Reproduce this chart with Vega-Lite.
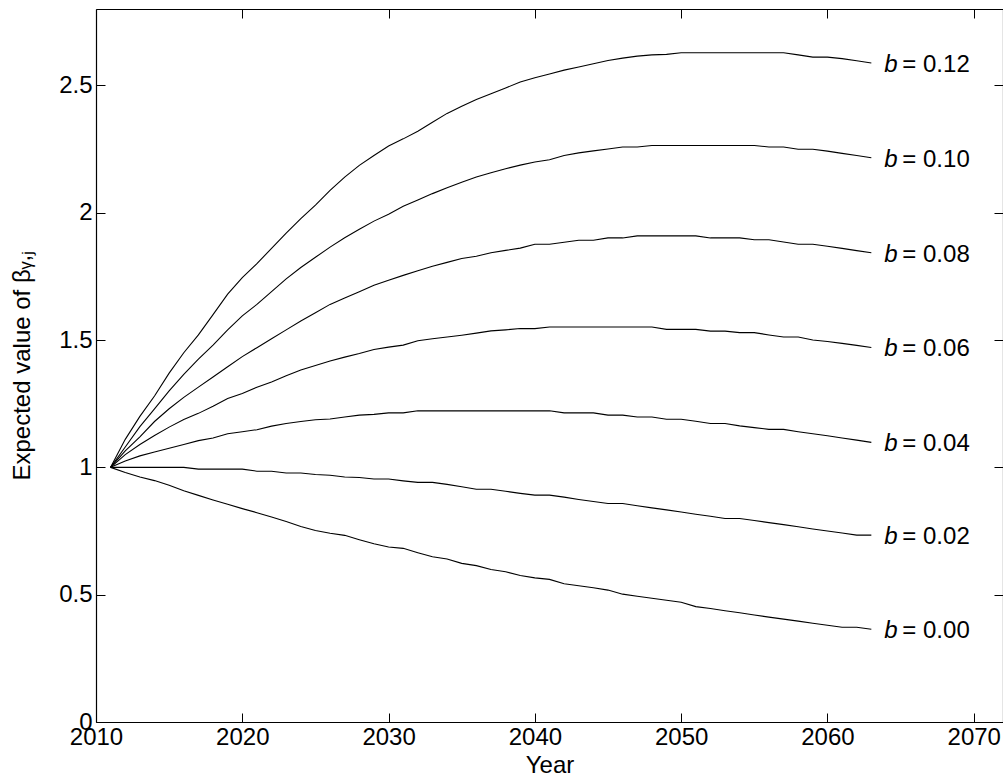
{
  "$schema": "https://vega.github.io/schema/vega-lite/v6.json",
  "width": 907,
  "height": 713,
  "autosize": {"type": "none"},
  "padding": {"left": 96, "top": 9, "right": 0, "bottom": 58},
  "background": "white",
  "config": {
    "font": "Liberation Sans",
    "view": {"stroke": null},
    "axis": {
      "domainColor": "black", "domainWidth": 1.2, "tickColor": "black", "tickWidth": 1,
      "labelColor": "black", "titleColor": "black", "labelFont": "Liberation Sans", "titleFont": "Liberation Sans",
      "labelFontSize": 24, "titleFontSize": 24, "titleFontWeight": "normal", "grid": false
    }
  },
  "datasets": {
    "curves": [
      {"year":2011,"b00":1,"b02":1,"b04":1,"b06":1,"b08":1,"b10":1,"b12":1},
      {"year":2012,"b00":0.98,"b02":1.0,"b04":1.025,"b06":1.05,"b08":1.065,"b10":1.08,"b12":1.11},
      {"year":2013,"b00":0.962,"b02":1.0,"b04":1.045,"b06":1.09,"b08":1.12,"b10":1.16,"b12":1.2},
      {"year":2014,"b00":0.948,"b02":1.0,"b04":1.06,"b06":1.125,"b08":1.18,"b10":1.23,"b12":1.28},
      {"year":2015,"b00":0.93,"b02":1.0,"b04":1.075,"b06":1.158,"b08":1.23,"b10":1.3,"b12":1.37},
      {"year":2016,"b00":0.908,"b02":1.0,"b04":1.09,"b06":1.188,"b08":1.275,"b10":1.365,"b12":1.45},
      {"year":2017,"b00":0.89,"b02":0.993,"b04":1.105,"b06":1.212,"b08":1.315,"b10":1.425,"b12":1.52},
      {"year":2018,"b00":0.872,"b02":0.993,"b04":1.115,"b06":1.24,"b08":1.355,"b10":1.48,"b12":1.6},
      {"year":2019,"b00":0.855,"b02":0.993,"b04":1.132,"b06":1.27,"b08":1.395,"b10":1.54,"b12":1.68},
      {"year":2020,"b00":0.838,"b02":0.993,"b04":1.14,"b06":1.29,"b08":1.435,"b10":1.595,"b12":1.745},
      {"year":2021,"b00":0.822,"b02":0.985,"b04":1.148,"b06":1.315,"b08":1.47,"b10":1.64,"b12":1.8},
      {"year":2022,"b00":0.805,"b02":0.985,"b04":1.162,"b06":1.335,"b08":1.505,"b10":1.69,"b12":1.86},
      {"year":2023,"b00":0.787,"b02":0.978,"b04":1.172,"b06":1.36,"b08":1.54,"b10":1.74,"b12":1.92},
      {"year":2024,"b00":0.768,"b02":0.978,"b04":1.18,"b06":1.382,"b08":1.575,"b10":1.785,"b12":1.977},
      {"year":2025,"b00":0.752,"b02":0.972,"b04":1.187,"b06":1.4,"b08":1.607,"b10":1.825,"b12":2.03},
      {"year":2026,"b00":0.741,"b02":0.969,"b04":1.19,"b06":1.418,"b08":1.64,"b10":1.865,"b12":2.088},
      {"year":2027,"b00":0.733,"b02":0.962,"b04":1.198,"b06":1.433,"b08":1.665,"b10":1.902,"b12":2.14},
      {"year":2028,"b00":0.716,"b02":0.96,"b04":1.205,"b06":1.447,"b08":1.69,"b10":1.935,"b12":2.186},
      {"year":2029,"b00":0.7,"b02":0.954,"b04":1.208,"b06":1.463,"b08":1.715,"b10":1.967,"b12":2.225},
      {"year":2030,"b00":0.687,"b02":0.954,"b04":1.214,"b06":1.472,"b08":1.735,"b10":1.994,"b12":2.262},
      {"year":2031,"b00":0.682,"b02":0.947,"b04":1.214,"b06":1.48,"b08":1.754,"b10":2.025,"b12":2.29},
      {"year":2032,"b00":0.665,"b02":0.941,"b04":1.222,"b06":1.497,"b08":1.772,"b10":2.05,"b12":2.32},
      {"year":2033,"b00":0.649,"b02":0.941,"b04":1.222,"b06":1.505,"b08":1.79,"b10":2.075,"b12":2.355},
      {"year":2034,"b00":0.64,"b02":0.933,"b04":1.222,"b06":1.512,"b08":1.805,"b10":2.098,"b12":2.39},
      {"year":2035,"b00":0.623,"b02":0.924,"b04":1.222,"b06":1.519,"b08":1.82,"b10":2.12,"b12":2.418},
      {"year":2036,"b00":0.614,"b02":0.914,"b04":1.222,"b06":1.527,"b08":1.829,"b10":2.14,"b12":2.445},
      {"year":2037,"b00":0.599,"b02":0.914,"b04":1.222,"b06":1.536,"b08":1.843,"b10":2.157,"b12":2.467},
      {"year":2038,"b00":0.59,"b02":0.906,"b04":1.222,"b06":1.54,"b08":1.852,"b10":2.173,"b12":2.49},
      {"year":2039,"b00":0.575,"b02":0.898,"b04":1.222,"b06":1.545,"b08":1.861,"b10":2.187,"b12":2.513},
      {"year":2040,"b00":0.566,"b02":0.891,"b04":1.222,"b06":1.545,"b08":1.876,"b10":2.199,"b12":2.53},
      {"year":2041,"b00":0.56,"b02":0.891,"b04":1.222,"b06":1.551,"b08":1.876,"b10":2.208,"b12":2.545},
      {"year":2042,"b00":0.543,"b02":0.883,"b04":1.214,"b06":1.551,"b08":1.884,"b10":2.225,"b12":2.56},
      {"year":2043,"b00":0.535,"b02":0.874,"b04":1.214,"b06":1.551,"b08":1.892,"b10":2.235,"b12":2.572},
      {"year":2044,"b00":0.527,"b02":0.866,"b04":1.214,"b06":1.551,"b08":1.892,"b10":2.243,"b12":2.585},
      {"year":2045,"b00":0.518,"b02":0.858,"b04":1.205,"b06":1.551,"b08":1.901,"b10":2.25,"b12":2.598},
      {"year":2046,"b00":0.502,"b02":0.858,"b04":1.205,"b06":1.551,"b08":1.901,"b10":2.258,"b12":2.607},
      {"year":2047,"b00":0.494,"b02":0.849,"b04":1.198,"b06":1.551,"b08":1.909,"b10":2.258,"b12":2.615},
      {"year":2048,"b00":0.486,"b02":0.841,"b04":1.198,"b06":1.551,"b08":1.909,"b10":2.264,"b12":2.62},
      {"year":2049,"b00":0.478,"b02":0.833,"b04":1.189,"b06":1.542,"b08":1.909,"b10":2.264,"b12":2.622},
      {"year":2050,"b00":0.47,"b02":0.825,"b04":1.189,"b06":1.542,"b08":1.909,"b10":2.264,"b12":2.628},
      {"year":2051,"b00":0.453,"b02":0.816,"b04":1.181,"b06":1.542,"b08":1.909,"b10":2.264,"b12":2.628},
      {"year":2052,"b00":0.446,"b02":0.808,"b04":1.172,"b06":1.535,"b08":1.901,"b10":2.264,"b12":2.628},
      {"year":2053,"b00":0.437,"b02":0.799,"b04":1.172,"b06":1.535,"b08":1.901,"b10":2.264,"b12":2.628},
      {"year":2054,"b00":0.429,"b02":0.799,"b04":1.163,"b06":1.529,"b08":1.901,"b10":2.264,"b12":2.628},
      {"year":2055,"b00":0.42,"b02":0.791,"b04":1.156,"b06":1.529,"b08":1.894,"b10":2.264,"b12":2.628},
      {"year":2056,"b00":0.412,"b02":0.783,"b04":1.149,"b06":1.52,"b08":1.894,"b10":2.258,"b12":2.628},
      {"year":2057,"b00":0.404,"b02":0.775,"b04":1.149,"b06":1.512,"b08":1.885,"b10":2.258,"b12":2.628},
      {"year":2058,"b00":0.396,"b02":0.767,"b04":1.14,"b06":1.512,"b08":1.876,"b10":2.249,"b12":2.62},
      {"year":2059,"b00":0.388,"b02":0.758,"b04":1.132,"b06":1.5,"b08":1.876,"b10":2.249,"b12":2.611},
      {"year":2060,"b00":0.38,"b02":0.75,"b04":1.124,"b06":1.494,"b08":1.868,"b10":2.242,"b12":2.611},
      {"year":2061,"b00":0.372,"b02":0.742,"b04":1.115,"b06":1.487,"b08":1.86,"b10":2.233,"b12":2.605},
      {"year":2062,"b00":0.372,"b02":0.734,"b04":1.107,"b06":1.479,"b08":1.851,"b10":2.225,"b12":2.597},
      {"year":2063,"b00":0.364,"b02":0.734,"b04":1.098,"b06":1.471,"b08":1.843,"b10":2.216,"b12":2.588}
    ],
    "labels": [
      {"year":2063,"v":0.364,"txt":"= 0.00"},
      {"year":2063,"v":0.734,"txt":"= 0.02"},
      {"year":2063,"v":1.098,"txt":"= 0.04"},
      {"year":2063,"v":1.471,"txt":"= 0.06"},
      {"year":2063,"v":1.843,"txt":"= 0.08"},
      {"year":2063,"v":2.216,"txt":"= 0.10"},
      {"year":2063,"v":2.588,"txt":"= 0.12"}
    ]
  },
  "layer": [
    {
      "data": {"name": "curves"},
      "transform": [{"fold": ["b00","b02","b04","b06","b08","b10","b12"], "as": ["series","v"]}],
      "mark": {"type": "line", "color": "black", "strokeWidth": 1.1},
      "encoding": {
        "x": {"field": "year", "type": "quantitative", "scale": {"domain": [2010, 2072], "nice": false, "zero": false},
              "axis": {"orient": "bottom", "values": [2010,2020,2030,2040,2050,2060,2070], "format": "d", "tickSize": -9, "labelPadding": 12, "title": "Year", "titlePadding": 4, "labelFlush": false}},
        "y": {"field": "v", "type": "quantitative", "scale": {"domain": [0, 2.8], "nice": false},
              "axis": {"orient": "left", "values": [0,0.5,1,1.5,2,2.5], "format": "~g", "tickSize": -9, "labelPadding": 13,
                       "title": "Expected value of βᵧ,ⱼ", "titleX": -74, "titleY": 471, "titleAngle": -90, "titleAlign": "left", "titleBaseline": "middle", "labelFlush": false}},
        "detail": {"field": "series"}
      }
    },
    {
      "data": {"name": "labels"},
      "mark": {"type": "text", "text": "b", "fontStyle": "italic", "fontSize": 24, "align": "left", "baseline": "middle", "dx": 13, "dy": 2, "color": "black", "font": "Liberation Sans"},
      "encoding": {
        "x": {"field": "year", "type": "quantitative", "scale": {"domain": [2010, 2072], "nice": false, "zero": false},
              "axis": {"orient": "top", "values": [2010,2020,2030,2040,2050,2060,2070], "labels": false, "tickSize": -9, "title": null}},
        "y": {"field": "v", "type": "quantitative", "scale": {"domain": [0, 2.8], "nice": false},
              "axis": {"orient": "right", "values": [0,0.5,1,1.5,2,2.5], "labels": false, "tickSize": -9, "title": null}}
      }
    },
    {
      "data": {"name": "labels"},
      "mark": {"type": "text", "fontSize": 24, "align": "left", "baseline": "middle", "dx": 31, "dy": 2, "color": "black", "font": "Liberation Sans"},
      "encoding": {
        "x": {"field": "year", "type": "quantitative", "scale": {"domain": [2010, 2072], "nice": false, "zero": false}, "axis": null},
        "y": {"field": "v", "type": "quantitative", "scale": {"domain": [0, 2.8], "nice": false}, "axis": null},
        "text": {"field": "txt"}
      }
    }
  ],
  "resolve": {"axis": {"x": "independent", "y": "independent"}}
}
